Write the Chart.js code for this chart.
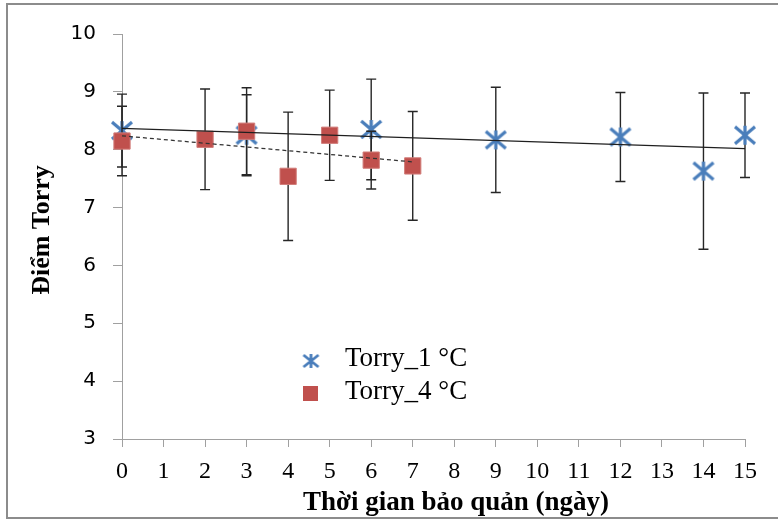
<!DOCTYPE html>
<html>
<head>
<meta charset="utf-8">
<script src="https://cdn.jsdelivr.net/npm/chart.js@4.4.1/dist/chart.umd.min.js"></script>
<style>
  html, body { margin: 0; padding: 0; background: #fff; overflow: hidden; }
  #wrap { position: relative; width: 778px; height: 519px; }
  #frame { position: absolute; left: 6px; top: 3px; width: 900px; height: 512px; border: 2px solid #8c8c8c; pointer-events: none; }
  canvas { position: absolute; left: 0; top: 0; }
</style>
</head>
<body>
<div id="wrap">
  <canvas id="chart" width="778" height="519"></canvas>
  <div id="frame"></div>
</div>
<script>
// datos
const days1 = [0, 3, 6, 9, 12, 14, 15];
const torry1 = [8.33, 8.25, 8.35, 8.17, 8.22, 7.63, 8.25];
const err1 = [0.63, 0.70, 0.87, 0.91, 0.77, 1.35, 0.73];

const days4 = [0, 2, 3, 4, 5, 6, 7];
const torry4 = [8.15, 8.18, 8.32, 7.54, 8.25, 7.82, 7.72];
const err4 = [0.60, 0.87, 0.75, 1.11, 0.78, 0.50, 0.94];

// lineas de tendencia (extremos)
const trend1Days = [0, 15];
const trend1 = [8.37, 8.02];
const trend4Days = [0, 7];
const trend4 = [8.24, 7.79];

const labels = ['Torry_1 °C', 'Torry_4 °C'];
const xTitle = 'Thời gian bảo quản (ngày)';
const yTitle = 'Điểm Torry';

const BLUE = '#4a7ebb';
const RED = '#c0504d';

function toPoints(xs, ys) {
    return xs.map((x, i) => ({ x: x, y: ys[i] }));
}

// marcador asterisco (X + linea vertical)
function makeStar(w, h, lw) {
    const c = document.createElement('canvas');
    c.width = w + 4;
    c.height = h + 4;
    const g = c.getContext('2d');
    g.strokeStyle = BLUE;
    g.lineWidth = lw;
    g.translate(c.width / 2, c.height / 2);
    g.beginPath();
    g.moveTo(-w / 2, -h / 2 + 1); g.lineTo(w / 2, h / 2 - 1);
    g.moveTo(w / 2, -h / 2 + 1); g.lineTo(-w / 2, h / 2 - 1);
    g.moveTo(0, -h / 2); g.lineTo(0, h / 2);
    g.stroke();
    return c;
}
const starBig = makeStar(20, 19, 3.2);
const starSmall = makeStar(15, 14, 2.8);

// barras de error por serie
const errorBars = {
    id: 'errorBars',
    beforeDatasetDraw(chart, args) {
        const ds = chart.data.datasets[args.index];
        if (!ds.errors) return;
        const ctx = chart.ctx;
        const xs = chart.scales.x, ys = chart.scales.y;
        ctx.save();
        ctx.strokeStyle = '#262626';
        ctx.lineWidth = 1.4;
        ds.data.forEach((p, i) => {
            const px = xs.getPixelForValue(p.x);
            const top = ys.getPixelForValue(p.y + ds.errors[i]);
            const bot = ys.getPixelForValue(p.y - ds.errors[i]);
            ctx.beginPath();
            ctx.moveTo(px, top); ctx.lineTo(px, bot);
            ctx.moveTo(px - 5, top); ctx.lineTo(px + 5, top);
            ctx.moveTo(px - 5, bot); ctx.lineTo(px + 5, bot);
            ctx.stroke();
        });
        ctx.restore();
    }
};

// leyenda dentro del area y titulos de ejes
const extras = {
    id: 'extras',
    afterDraw(chart) {
        const ctx = chart.ctx;
        ctx.save();
        ctx.fillStyle = '#000';
        ctx.font = '27px "Liberation Serif"';
        ctx.textBaseline = 'alphabetic';
        ctx.textAlign = 'left';
        ctx.drawImage(starSmall, 311 - starSmall.width / 2, 361 - starSmall.height / 2);
        ctx.fillText(labels[0], 345, 366);
        ctx.fillStyle = RED;
        ctx.fillRect(303, 386, 15, 15);
        ctx.fillStyle = '#000';
        ctx.fillText(labels[1], 345, 399);

        ctx.font = 'bold 27px "Liberation Serif"';
        ctx.textAlign = 'center';
        ctx.fillText(xTitle, 456, 510);
        ctx.font = 'bold 26px "Liberation Serif"';
        ctx.translate(49, 230);
        ctx.rotate(-Math.PI / 2);
        ctx.fillText(yTitle, 0, 0);
        ctx.restore();
    }
};

const ctx = document.getElementById('chart').getContext('2d');
new Chart(ctx, {
    type: 'scatter',
    data: {
        datasets: [
            {
                label: labels[0],
                data: toPoints(days1, torry1),
                errors: err1,
                pointStyle: starBig,
                pointRadius: 10,
                clip: false,
                order: 3
            },
            {
                label: labels[1],
                data: toPoints(days4, torry4),
                errors: err4,
                pointStyle: 'rect',
                pointRadius: 11.5,
                backgroundColor: RED,
                borderColor: '#d27d7a',
                borderWidth: 1,
                clip: false,
                order: 2
            },
            {
                label: 'trend1',
                data: toPoints(trend1Days, trend1),
                showLine: true,
                pointRadius: 0,
                borderColor: '#1f1f1f',
                borderWidth: 1.2,
                clip: false,
                order: 1
            },
            {
                label: 'trend4',
                data: toPoints(trend4Days, trend4),
                showLine: true,
                pointRadius: 0,
                borderColor: '#333',
                borderWidth: 1.3,
                borderDash: [4, 3],
                clip: false,
                order: 0
            }
        ]
    },
    options: {
        responsive: false,
        animation: false,
        layout: { padding: { top: 34, right: 33, left: 0, bottom: 0 } },
        plugins: {
            legend: { display: false },
            tooltip: { enabled: false },
            title: { display: false }
        },
        scales: {
            x: {
                type: 'linear',
                min: 0,
                max: 15,
                afterFit: s => { s.height = 80; },
                ticks: {
                    stepSize: 1,
                    color: '#000',
                    padding: 10,
                    font: { family: 'Liberation Serif', size: 24 }
                },
                grid: { drawOnChartArea: false, tickLength: 8, color: '#a0a0a0' },
                border: { color: '#a0a0a0', width: 1 }
            },
            y: {
                min: 3,
                max: 10,
                afterFit: s => { s.width = 122; },
                ticks: {
                    stepSize: 1,
                    color: '#000',
                    padding: 17,
                    font: { family: 'DejaVu Sans', size: 20 }
                },
                grid: { drawOnChartArea: false, tickLength: 9, color: '#a0a0a0' },
                border: { color: '#a0a0a0', width: 1 }
            }
        }
    },
    plugins: [errorBars, extras]
});
</script>
</body>
</html>
